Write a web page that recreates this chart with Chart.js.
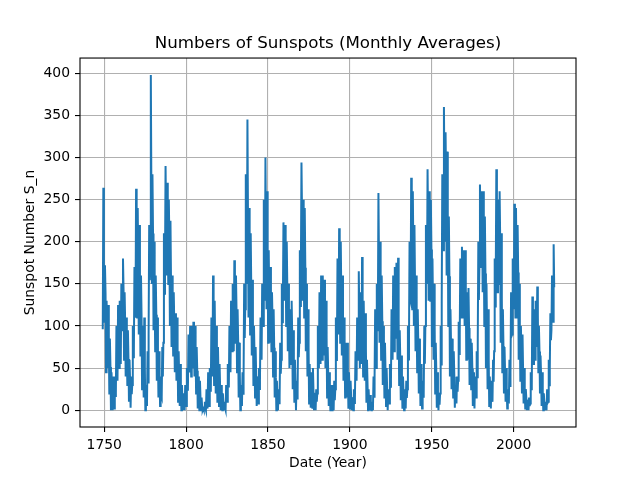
<!DOCTYPE html>
<html>
<head>
<meta charset="utf-8">
<script src="https://cdn.jsdelivr.net/npm/chart.js@4.4.1/dist/chart.umd.min.js"></script>
<style>
  html, body { margin: 0; padding: 0; background: #fff; }
</style>
</head>
<body>
<canvas id="sunspotChart" width="640" height="480"></canvas>
<script>
// monthly averages, summarised per year (1749 .. 2024):
// lowest month, highest month and the yearly mean
const firstYear = 1749;

const monthlyLow = [
  96,
  105, 45, 50, 20, 0, 0, 2, 20, 35, 50,
  55, 95, 60, 40, 30, 10, 3, 30, 70, 110,
  110, 90, 65, 25, 15, 0, 5, 90, 180, 150,
  95, 70, 35, 15, 5, 15, 80, 170, 160, 150,
  100, 75, 65, 45, 35, 10, 5, 0, 0, 0,
  5, 25, 45, 40, 50, 40, 20, 2, 0, 0,
  0, 0, 0, 2, 5, 25, 40, 30, 20, 10,
  5, 0, 0, 0, 0, 10, 30, 45, 70, 70,
  80, 45, 15, 0, 5, 40, 120, 150, 110, 90,
  65, 30, 15, 5, 8, 35, 60, 100, 130, 120,
  80, 80, 70, 40, 15, 0, 0, 15, 60, 130,
  130, 100, 70, 50, 55, 25, 10, 0, 25, 80,
  170, 130, 110, 70, 40, 8, 3, 3, 0, 0,
  20, 50, 55, 60, 65, 50, 15, 5, 0, 0,
  0, 25, 70, 90, 80, 65, 35, 15, 15, 3,
  2, 0, 0, 15, 35, 60, 50, 55, 40, 35,
  10, 0, 0, 0, 2, 40, 50, 110, 80, 60,
  30, 15, 5, 0, 8, 35, 60, 70, 85, 60,
  30, 12, 3, 0, 2, 25, 80, 130, 120, 100,
  70, 45, 20, 5, 2, 20, 100, 150, 130, 130,
  75, 60, 20, 3, 0, 20, 130, 190, 200, 160,
  100, 40, 25, 15, 3, 8, 35, 90, 110, 110,
  100, 60, 60, 30, 25, 5, 2, 15, 80, 170,
  170, 140, 100, 50, 25, 5, 2, 10, 70, 160,
  140, 150, 80, 45, 20, 10, 2, 8, 45, 90,
  120, 110, 110, 60, 35, 20, 8, 2, 0, 0,
  8, 30, 55, 60, 75, 45, 20, 5, 0, 0,
  0, 10, 50, 95, 105
];

const monthlyHigh = [
  264,
  172, 130, 125, 85, 45, 40, 40, 100, 125, 130,
  150, 180, 140, 110, 95, 60, 40, 100, 170, 263,
  240, 220, 160, 100, 110, 30, 70, 220, 398, 280,
  200, 160, 110, 70, 40, 75, 210, 290, 270, 250,
  225, 160, 140, 115, 110, 70, 55, 30, 20, 30,
  50, 90, 100, 100, 105, 100, 75, 40, 35, 15,
  2, 10, 25, 45, 50, 110, 160, 130, 100, 75,
  55, 30, 20, 10, 30, 55, 100, 130, 150, 178,
  160, 120, 80, 30, 45, 150, 280, 345, 240, 210,
  155, 100, 75, 40, 50, 110, 150, 250, 300, 260,
  190, 170, 140, 120, 70, 35, 25, 80, 150, 223,
  220, 200, 150, 120, 130, 95, 60, 35, 110, 190,
  294, 250, 240, 150, 120, 55, 45, 50, 20, 25,
  100, 140, 160, 160, 155, 130, 75, 45, 30, 30,
  35, 110, 180, 216, 200, 160, 110, 80, 80, 45,
  35, 15, 25, 70, 110, 165, 140, 182, 130, 115,
  60, 25, 18, 10, 40, 120, 150, 258, 200, 160,
  100, 80, 50, 25, 55, 120, 160, 170, 175, 181,
  95, 65, 40, 25, 35, 100, 200, 276, 260, 220,
  160, 120, 85, 55, 35, 100, 220, 286, 260, 250,
  180, 150, 80, 45, 20, 100, 280, 360, 330, 307,
  230, 120, 85, 70, 30, 40, 105, 180, 194, 190,
  190, 140, 145, 85, 80, 45, 40, 70, 200, 268,
  260, 260, 230, 150, 120, 40, 35, 60, 180, 286,
  250, 260, 210, 120, 75, 50, 25, 60, 140, 180,
  245, 240, 220, 150, 100, 90, 50, 25, 12, 15,
  45, 135, 120, 130, 147, 100, 65, 45, 20, 10,
  25, 60, 115, 160, 197
];

const yearlyMean = [
  134.7,
  139.0, 79.5, 79.7, 51.2, 20.3, 16.0, 17.0, 54.0, 79.3, 90.0,
  104.8, 143.2, 102.0, 75.2, 60.7, 34.8, 19.0, 63.0, 116.3, 176.8,
  168.0, 136.0, 110.8, 58.0, 51.0, 11.7, 33.0, 154.2, 257.3, 209.8,
  141.3, 113.5, 64.2, 38.0, 17.0, 40.2, 138.2, 220.0, 218.2, 196.8,
  149.8, 111.0, 100.0, 78.2, 68.3, 35.5, 26.7, 10.7, 6.8, 11.3,
  24.2, 56.7, 75.0, 71.8, 79.2, 70.3, 46.8, 16.8, 13.5, 4.2,
  0.0, 2.3, 8.3, 20.3, 23.2, 59.0, 76.3, 68.3, 52.9, 38.5,
  24.2, 9.2, 6.3, 2.2, 11.4, 28.2, 59.9, 83.0, 108.5, 115.2,
  117.4, 80.8, 44.3, 13.4, 19.5, 85.8, 192.7, 227.3, 168.7, 143.0,
  105.5, 63.3, 40.3, 18.1, 25.1, 65.8, 102.7, 166.3, 208.3, 182.5,
  126.3, 122.0, 102.7, 74.1, 39.0, 12.7, 8.2, 43.4, 104.4, 178.3,
  182.2, 146.6, 112.1, 83.5, 89.2, 57.8, 30.7, 13.9, 62.8, 123.6,
  232.0, 185.3, 169.2, 110.1, 74.5, 28.3, 18.9, 20.7, 5.7, 10.0,
  53.7, 90.5, 99.0, 106.1, 105.8, 86.3, 42.4, 21.8, 11.2, 10.4,
  11.8, 59.5, 121.7, 142.0, 130.0, 106.6, 69.4, 43.8, 44.4, 20.2,
  15.7, 4.6, 8.5, 40.8, 70.1, 105.5, 90.1, 102.8, 80.9, 73.2,
  30.9, 9.5, 6.0, 2.4, 16.1, 79.0, 95.0, 173.6, 134.6, 105.7,
  62.7, 43.5, 23.7, 9.7, 27.9, 74.0, 106.5, 114.7, 129.7, 108.2,
  59.4, 35.1, 18.6, 9.2, 14.6, 60.2, 132.8, 190.6, 182.6, 148.0,
  113.0, 79.2, 50.8, 27.1, 16.1, 55.3, 154.3, 214.7, 193.0, 190.7,
  118.9, 98.3, 45.0, 20.1, 6.6, 54.2, 200.7, 269.3, 261.7, 225.1,
  159.0, 76.4, 53.4, 39.9, 15.0, 22.0, 66.8, 132.9, 150.0, 149.4,
  148.0, 94.4, 97.6, 54.1, 49.2, 22.5, 18.4, 39.3, 131.0, 220.1,
  218.9, 198.9, 162.4, 91.0, 60.5, 20.6, 14.8, 33.9, 123.0, 211.1,
  191.8, 203.3, 133.0, 76.1, 44.9, 25.1, 11.6, 28.9, 88.3, 136.3,
  173.9, 170.4, 163.6, 99.3, 65.3, 45.8, 24.7, 12.6, 4.2, 4.8,
  24.9, 80.8, 84.5, 94.0, 113.3, 69.8, 39.8, 21.7, 7.0, 3.6,
  8.8, 29.6, 83.2, 125.5, 146
];

const years = monthlyLow.map((_, i) => firstYear + i);

const xTicks = [1750, 1800, 1850, 1900, 1950, 2000];
const yTicks = [0, 50, 100, 150, 200, 250, 300, 350, 400];

// low, high, mean inside each year
const points = [];
years.forEach((yr, i) => {
  points.push({ x: yr + 0.1, y: monthlyLow[i] });
  points.push({ x: yr + 0.45, y: monthlyHigh[i] });
  points.push({ x: yr + 0.8, y: yearlyMean[i] });
});

const font = { family: "DejaVu Sans", size: 13.9, weight: "normal" };

const frame = {
  id: "frame",
  afterDraw(chart) {
    const { ctx, chartArea: a } = chart;
    ctx.save();
    ctx.strokeStyle = "#000";
    ctx.lineWidth = 1.1;
    ctx.strokeRect(a.left, a.top, a.right - a.left, a.bottom - a.top);
    ctx.restore();
  },
};

new Chart(document.getElementById("sunspotChart").getContext("2d"), {
  type: "line",
  data: {
    datasets: [
      {
        data: points,
        borderColor: "#1f77b4",
        borderWidth: 2,
        pointRadius: 0,
        tension: 0,
        fill: false,
      },
    ],
  },
  options: {
    responsive: false,
    animation: false,
    layout: { padding: { left: 16, right: 0, top: 0, bottom: 0 } },
    plugins: {
      legend: { display: false },
      tooltip: { enabled: false },
      title: {
        display: true,
        text: "Numbers of Sunspots (Monthly Averages)",
        color: "#000",
        font: { family: "DejaVu Sans", size: 16.7, weight: "normal" },
        padding: { top: 34, bottom: 4 },
      },
    },
    scales: {
      x: {
        type: "linear",
        min: 1735.2,
        max: 2038.1,
        afterBuildTicks: (s) => { s.ticks = xTicks.map((v) => ({ value: v })); },
        afterFit: (s) => { s.height = 53; },
        ticks: { color: "#000", font: font, padding: 5, maxRotation: 0, callback: (v) => String(v) },
        grid: { color: "#b0b0b0", lineWidth: 1.1, tickColor: "#000", tickLength: 5, tickWidth: 1.1 },
        border: { display: false },
        title: { display: true, text: "Date (Year)", color: "#000", font: font, padding: { top: 0, bottom: 8 } },
      },
      y: {
        type: "linear",
        min: -19.9,
        max: 418.1,
        afterBuildTicks: (s) => { s.ticks = yTicks.map((v) => ({ value: v })); },
        afterFit: (s) => { s.width = 64; },
        ticks: { color: "#000", font: font, padding: 5, callback: (v) => String(v) },
        grid: { color: "#b0b0b0", lineWidth: 1.1, tickColor: "#000", tickLength: 5, tickWidth: 1.1 },
        border: { display: false },
        title: { display: true, text: "Sunspot Number S_n", color: "#000", font: font, padding: { top: 5.7, bottom: 0 } },
      },
      // empty right margin, keeps the plot at matplotlib's place
      yRight: {
        type: "linear",
        position: "right",
        min: -19.9,
        max: 418.1,
        afterFit: (s) => { s.width = 64; },
        ticks: { display: false },
        grid: { display: false },
        border: { display: false },
      },
    },
  },
  plugins: [frame],
});
</script>
</body>
</html>
